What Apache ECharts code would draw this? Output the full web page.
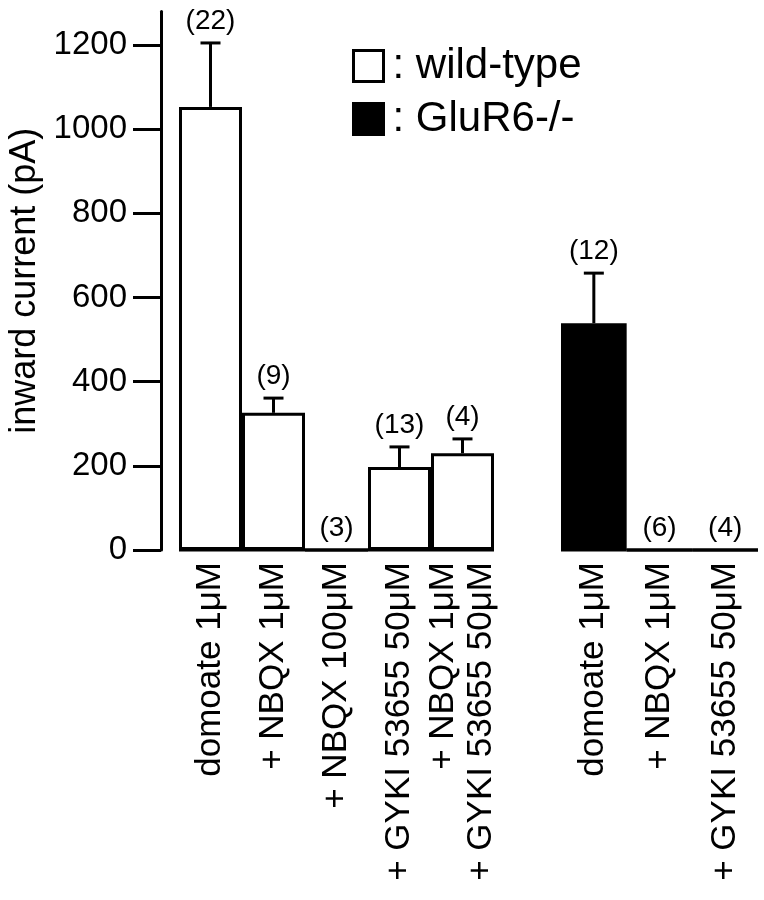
<!DOCTYPE html>
<html>
<head>
<meta charset="utf-8">
<script src="https://cdn.jsdelivr.net/npm/echarts@6/dist/echarts.min.js"></script>
<style>
    html, body {margin: 0; padding: 0; background: #fff;}
    #main {width: 764px; height: 900px;}
</style>
</head>
<body>
<div id="main"></div>
<script>
    // wild-type group
    var wtLabels = ['domoate 1μM', '+ NBQX 1μM', '+ NBQX 100μM', '+ GYKI 53655 50μM', '+ NBQX 1μM\n+ GYKI 53655 50μM'];
    var wtMean = [1053, 326, 0, 197, 230];
    var wtSem = [152, 35, 0, 48, 34];
    var wtN = [22, 9, 3, 13, 4];
    // GluR6-/- group
    var koLabels = ['domoate 1μM', '+ NBQX 1μM', '+ GYKI 53655 50μM'];
    var koMean = [539, 0, 0];
    var koSem = [119, 0, 0];
    var koN = [12, 6, 4];
    var yTicks = [0, 200, 400, 600, 800, 1000, 1200];
    var yMax = 1280;

    var FONT = 'Liberation Sans';

    function errData(mean, sem, n) {
        return mean.map(function (m, i) { return [i, m, sem[i], n[i]]; });
    }

    //error bar + baseline + n label
    function renderErr(params, api) {
        var i = api.value(0), m = api.value(1), e = api.value(2), n = api.value(3);
        var p0 = api.coord([i, 0]);
        var pm = api.coord([i, m]);
        var pc = api.coord([i, m + e]);
        var w = api.size([1, 0])[0];
        var st = {stroke: '#000', lineWidth: 3};
        var children = [
            {type: 'line', shape: {x1: p0[0] - w / 2, y1: p0[1], x2: p0[0] + w / 2, y2: p0[1]}, style: st}
        ];
        if (e > 0) {
            children.push({type: 'line', shape: {x1: pm[0], y1: pm[1], x2: pc[0], y2: pc[1]}, style: st});
            children.push({type: 'line', shape: {x1: pc[0] - 10, y1: pc[1], x2: pc[0] + 10, y2: pc[1]}, style: st});
        }
        children.push({
            type: 'text', x: pc[0], y: pc[1] - 22,
            style: {text: '(' + n + ')', fill: '#000', fontSize: 28, fontFamily: FONT, align: 'center', verticalAlign: 'middle'}
        });
        return {type: 'group', children: children};
    }

    var xLabelStyle = {
        interval: 0, rotate: 90, margin: 12, color: '#000',
        fontSize: 35, fontFamily: FONT, lineHeight: 38
    };

    var option = {
        animation: false,
        backgroundColor: '#fff',
        legend: {
            orient: 'vertical',
            left: 352, top: 45, padding: 0,
            itemWidth: 30, itemHeight: 31, itemGap: 11,
            icon: 'rect',
            itemStyle: {borderColor: '#000', borderWidth: 3},
            formatter: function (name) { return ': ' + name; },
            textStyle: {fontSize: 42, fontFamily: FONT, color: '#000', padding: [0, 0, 0, 4]},
            data: ['wild-type', 'GluR6-/-']
        },
        grid: [
            {left: 179, right: 270, top: 11.4, bottom: 350, outerBoundsMode: 'none'},
            {left: 561, right: 6, top: 11.4, bottom: 350, outerBoundsMode: 'none'}
        ],
        xAxis: [
            {
                type: 'category', gridIndex: 0, data: wtLabels,
                axisLine: {show: false}, axisTick: {show: false},
                axisLabel: xLabelStyle
            },
            {
                type: 'category', gridIndex: 1, data: koLabels,
                axisLine: {show: false}, axisTick: {show: false},
                axisLabel: xLabelStyle
            }
        ],
        yAxis: [
            {
                type: 'value', gridIndex: 0, min: 0, max: yMax, offset: 18,
                name: 'inward current (pA)', nameLocation: 'middle', nameRotate: 90, nameGap: 118,
                nameTextStyle: {fontSize: 36, fontFamily: FONT, color: '#000'},
                axisLine: {show: true, lineStyle: {color: '#000', width: 3}},
                axisTick: {show: true, length: 28, lineStyle: {color: '#000', width: 3}, customValues: yTicks},
                axisLabel: {
                    margin: 34, fontSize: 33, fontFamily: FONT, color: '#000', customValues: yTicks,
                    formatter: function (v) { return String(v); }
                },
                splitLine: {show: false}
            },
            {
                type: 'value', gridIndex: 1, min: 0, max: yMax, show: false,
                splitLine: {show: false}
            }
        ],
        series: [
            {
                name: 'wild-type', type: 'bar', xAxisIndex: 0, yAxisIndex: 0,
                data: wtMean, barCategoryGap: '0%',
                itemStyle: {color: '#fff', borderColor: '#000', borderWidth: 3}
            },
            {
                name: 'GluR6-/-', type: 'bar', xAxisIndex: 1, yAxisIndex: 1,
                data: koMean, barCategoryGap: '0%',
                itemStyle: {color: '#000', borderColor: '#000', borderWidth: 3}
            },
            {
                type: 'custom', xAxisIndex: 0, yAxisIndex: 0,
                renderItem: renderErr, data: errData(wtMean, wtSem, wtN), clip: false
            },
            {
                type: 'custom', xAxisIndex: 1, yAxisIndex: 1,
                renderItem: renderErr, data: errData(koMean, koSem, koN), clip: false
            }
        ]
    };

    var myChart = echarts.init(document.getElementById('main'), null, {renderer: 'canvas'});
    myChart.setOption(option);
</script>
</body>
</html>
